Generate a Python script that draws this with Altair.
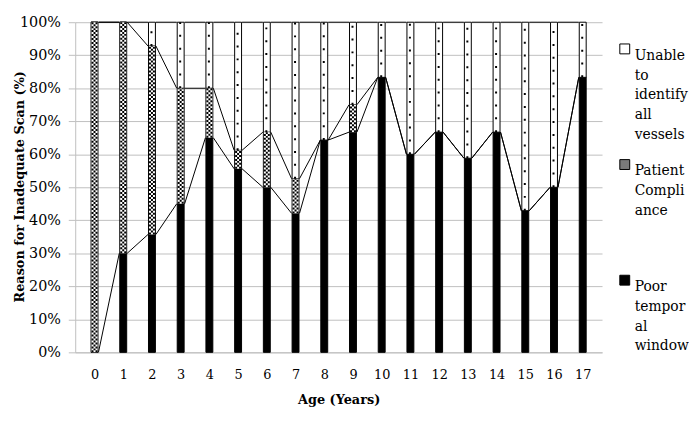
import altair as alt
import pandas as pd

# ---------------- data ----------------
ages = list(range(18))
poor = [0, 30, 35.7, 45, 65, 55.6, 50, 42.1, 64.3, 66.7, 83.3, 60, 66.7, 58.8, 66.7, 42.9, 50, 83.3]
compliance = [100, 70, 57.1, 35, 15, 5.6, 16.7, 10.5, 0, 8.3, 0, 0, 0, 0, 0, 0, 0, 0]
unable = [0, 0, 7.2, 20, 20, 38.8, 33.3, 47.4, 35.7, 25, 16.7, 40, 33.3, 41.2, 33.3, 57.1, 50, 16.7]

series_names = ["Unable to identify all vessels", "Patient Compliance", "Poor temporal window"]
legend_lines = [["Unable", "to", "identify", "all", "vessels"],
                ["Patient", "Compli", "ance", "", ""],
                ["Poor", "tempor", "al", "window"]]
y_ticks = [0, 10, 20, 30, 40, 50, 60, 70, 80, 90, 100]

FONT = "DejaVu Serif"

# ---------------- tables ----------------
rows = []
for i, a in enumerate(ages):
    c1 = poor[i]
    c2 = poor[i] + compliance[i]
    c3 = c2 + unable[i]
    rows.append(dict(age=a, series=series_names[2], lo=0, hi=c1, ord=0))
    rows.append(dict(age=a, series=series_names[1], lo=c1, hi=c2, ord=1))
    rows.append(dict(age=a, series=series_names[0], lo=c2, hi=c3, ord=2))
bars_df = pd.DataFrame(rows)

levels = [poor,
          [p + c for p, c in zip(poor, compliance)],
          [p + c + u for p, c, u in zip(poor, compliance, unable)]]
seg_rows = []
for lev in levels:
    for i in range(len(ages) - 1):
        seg_rows.append(dict(age=ages[i], a1=ages[i + 1], lo=lev[i], v1=lev[i + 1]))
seg_df = pd.DataFrame(seg_rows)

def lbl_expr():
    parts = []
    for name, lines in zip(series_names[:-1], legend_lines[:-1]):
        arr = "[" + ",".join("'%s'" % s for s in lines) + "]"
        parts.append("datum.label == '%s' ? %s : " % (name, arr))
    last = "[" + ",".join("'%s'" % s for s in legend_lines[-1]) + "]"
    return "".join(parts) + last

x_scale = alt.Scale(domain=[-0.5, 17.5], nice=False, zero=False)
y_scale = alt.Scale(domain=[0, 100], nice=False)

X_AXIS = alt.Axis(values=ages, title="Age (Years)", grid=False, ticks=False,
                  labelOverlap=False, labelFlush=False,
                  labelFont=FONT, labelFontSize=13, labelPadding=16,
                  titleFont=FONT, titleFontSize=13, titleFontWeight="bold",
                  titlePadding=13, domainColor="#bfbfbf", labelColor="black",
                  titleColor="black")
Y_AXIS = alt.Axis(values=y_ticks, labelExpr="datum.value + '%'",
                  title="Reason for Inadequate Scan (%)",
                  ticks=True, tickSize=7, tickColor="#bfbfbf",
                  labelOverlap=False, labelFlush=False,
                  labelFont=FONT, labelFontSize=14.5, labelPadding=8,
                  titleFont=FONT, titleFontSize=13, titleFontWeight="bold",
                  titleX=-52, titleY=166, titleBaseline="alphabetic",
                  gridColor="#bfbfbf", domainColor="#bfbfbf",
                  labelColor="black", titleColor="black")

X = alt.X("age:Q", scale=x_scale, axis=X_AXIS)
Y = alt.Y("lo:Q", scale=y_scale, axis=Y_AXIS)

base = alt.Chart(bars_df)

bars = base.mark_bar(size=7, stroke="black", strokeWidth=1).encode(
    x=X, y=Y, y2="hi:Q",
    color=alt.Color("series:N",
                    scale=alt.Scale(domain=series_names, range=["white", "#7a7a7a", "black"]),
                    legend=alt.Legend(title=None, orient="none", legendX=549, legendY=20,
                                      symbolType="square", symbolSize=100,
                                      symbolStrokeColor="black", symbolStrokeWidth=1,
                                      labelFont=FONT, labelFontSize=14, labelColor="black",
                                      labelExpr=lbl_expr(), labelBaseline="top",
                                      labelOffset=3, rowPadding=16, labelLimit=200)),
    order=alt.Order("ord:Q"),
)

comp = base.transform_filter("datum.ord == 1 && datum.hi > datum.lo")
checker = [comp.mark_rule(color="white", strokeWidth=6).encode(x=X, y=Y, y2="hi:Q")]
for k, off in enumerate([-2.0, 0.0, 2.0]):
    checker.append(comp.mark_rule(color="black", strokeWidth=2,
                                  strokeDash=[2, 2], strokeDashOffset=2 * (k % 2),
                                  xOffset=off).encode(x=X, y=Y, y2="hi:Q"))

unab = base.transform_filter("datum.ord == 2 && datum.hi > datum.lo")
dots = unab.mark_rule(color="black", strokeWidth=2, strokeDash=[2, 11],
                      xOffset=-0.5).encode(x=X, y=Y, y2="hi:Q")

series_lines = alt.Chart(seg_df).mark_rule(color="black", strokeWidth=1,
                                           xOffset=4, x2Offset=-4).encode(
    x=X, x2="a1:Q", y=Y, y2="v1:Q")

chart = alt.layer(bars, *checker, dots, series_lines).properties(
    width=533, height=334,
    padding={"left": 6, "top": 4, "right": 0, "bottom": 5},
).configure(
    background="white",
    view={"stroke": "transparent"},
    style={"guide-label": {"lineHeight": 20}},
)

chart.save("out.html", embed_options={"renderer": "svg", "actions": False})
